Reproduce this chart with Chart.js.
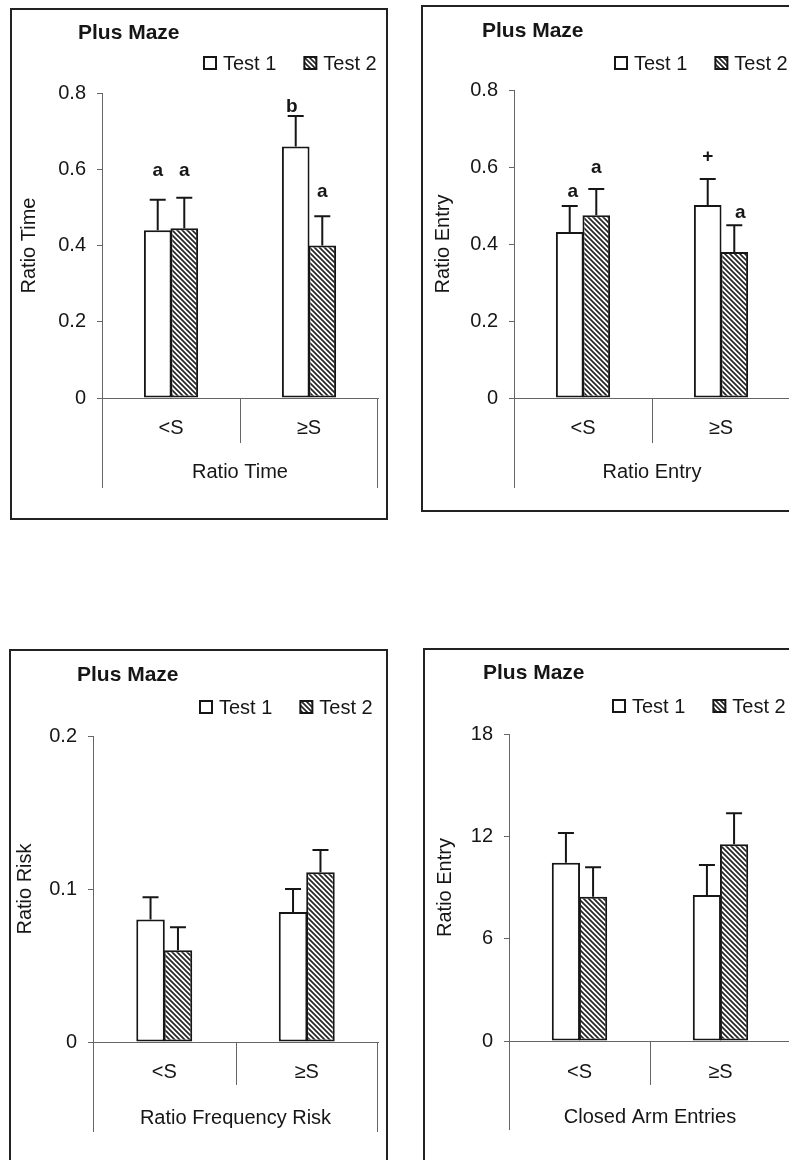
<!DOCTYPE html>
<html><head><meta charset="utf-8">
<script src="https://cdn.jsdelivr.net/npm/chart.js@4.4.1/dist/chart.umd.min.js"></script>
<style>
html,body{margin:0;padding:0;background:#fff;overflow:hidden;width:789px;height:1160px;position:relative;}
.frame{position:absolute;border:2px solid #222;box-sizing:border-box;}
canvas{position:absolute;}
</style></head><body>
<div class="frame" id="f1"></div><div class="frame" id="f2"></div>
<div class="frame" id="f3"></div><div class="frame" id="f4"></div>
<canvas id="c1"></canvas><canvas id="c2"></canvas>
<canvas id="c3"></canvas><canvas id="c4"></canvas>
<script>
// ---------- data ----------
const categories = ['<S', '\u2265S'];
const seriesNames = ['Test 1', 'Test 2'];
const panelTitle = 'Plus Maze';

// Panel A: Ratio Time
const timeTest1 = [0.44, 0.66];
const timeTest2 = [0.445, 0.40];
const timeErr1 = [0.08, 0.08];
const timeErr2 = [0.08, 0.077];
const timeMarks1 = ['a', 'b'];
const timeMarks2 = ['a', 'a'];
const timeTicks = [0, 0.2, 0.4, 0.6, 0.8];
const timeTickLabels = ['0', '0.2', '0.4', '0.6', '0.8'];

// Panel B: Ratio Entry
const entryTest1 = [0.431, 0.501];
const entryTest2 = [0.475, 0.379];
const entryErr1 = [0.068, 0.068];
const entryErr2 = [0.068, 0.07];
const entryMarks1 = ['a', '+'];
const entryMarks2 = ['a', 'a'];
const entryTicks = [0, 0.2, 0.4, 0.6, 0.8];
const entryTickLabels = ['0', '0.2', '0.4', '0.6', '0.8'];

// Panel C: Ratio Frequency Risk
const riskTest1 = [0.080, 0.085];
const riskTest2 = [0.060, 0.111];
const riskErr1 = [0.0146, 0.015];
const riskErr2 = [0.015, 0.0145];
const riskMarks1 = ['', ''];
const riskMarks2 = ['', ''];
const riskTicks = [0, 0.1, 0.2];
const riskTickLabels = ['0', '0.1', '0.2'];

// Panel D: Closed Arm Entries
const closedTest1 = [10.45, 8.56];
const closedTest2 = [8.46, 11.53];
const closedErr1 = [1.75, 1.76];
const closedErr2 = [1.72, 1.82];
const closedMarks1 = ['', ''];
const closedMarks2 = ['', ''];
const closedTicks = [0, 6, 12, 18];
const closedTickLabels = ['0', '6', '12', '18'];

// ---------- styling / layout ----------
const FONT = "'Liberation Sans', Arial, sans-serif";
Chart.defaults.font.family = FONT;
Chart.defaults.color = '#111';
const FS = 20, LH = FS * 1.2;
const INK = '#161616', AXIS = '#666';

function makeHatch() {
  const s = 5, c = document.createElement('canvas');
  c.width = s; c.height = s;
  const g = c.getContext('2d');
  g.fillStyle = '#fff'; g.fillRect(0, 0, s, s);
  g.strokeStyle = '#262626'; g.lineWidth = 1.7;
  g.beginPath();
  g.moveTo(-1, -1); g.lineTo(s + 1, s + 1);
  g.moveTo(-1, s - 1); g.lineTo(1, s + 1);
  g.moveTo(s - 1, -1); g.lineTo(s + 1, 1);
  g.stroke();
  return g.createPattern(c, 'repeat');
}
const hatch = makeHatch();

const extras = {
  id: 'extras',
  afterDatasetsDraw(chart, args, o) {
    const ctx = chart.ctx, y = chart.scales.y;
    ctx.save();
    ctx.strokeStyle = INK; ctx.lineWidth = 2;
    chart.data.datasets.forEach((ds, di) => {
      const meta = chart.getDatasetMeta(di);
      meta.data.forEach((bar, i) => {
        const top = y.getPixelForValue(ds.data[i]);
        const et = y.getPixelForValue(ds.data[i] + o.errors[di][i]);
        ctx.beginPath();
        ctx.moveTo(bar.x, top); ctx.lineTo(bar.x, et);
        ctx.moveTo(bar.x - 8, et); ctx.lineTo(bar.x + 8, et);
        ctx.stroke();
        const m = o.marks[di][i];
        if (m) {
          ctx.fillStyle = INK;
          ctx.font = 'bold 19px ' + FONT;
          ctx.textAlign = 'center'; ctx.textBaseline = 'alphabetic';
          ctx.fillText(m, bar.x + o.markDx[di][i], et - o.markGap[di][i]);
        }
      });
    });
    ctx.restore();
  },
  afterDraw(chart, args, o) {
    const ctx = chart.ctx, a = chart.chartArea, x = chart.scales.x;
    const L = o.L, ox = L.frame.x, oy = L.frame.y;
    ctx.save();
    // category box lines
    ctx.strokeStyle = AXIS; ctx.lineWidth = 1;
    ctx.beginPath();
    ctx.moveTo(a.left + 0.5, a.bottom); ctx.lineTo(a.left + 0.5, L.lineBottom - oy);
    ctx.moveTo(a.right - 0.5, a.bottom); ctx.lineTo(a.right - 0.5, L.lineBottom - oy);
    const mid = Math.round((x.getPixelForValue(0) + x.getPixelForValue(1)) / 2) + 0.5;
    ctx.moveTo(mid, a.bottom); ctx.lineTo(mid, L.dividerBottom - oy);
    ctx.stroke();
    // title
    ctx.fillStyle = INK;
    ctx.font = 'bold 21px ' + FONT;
    ctx.textAlign = 'left'; ctx.textBaseline = 'middle';
    ctx.fillText(o.title, L.titleX - ox, L.titleY - oy);
    // legend
    ctx.font = FS + 'px ' + FONT;
    let lx = L.legendX - ox;
    const ly = L.legendY - oy;
    chart.data.datasets.forEach((ds, di) => {
      ctx.fillStyle = ds.backgroundColor;
      ctx.fillRect(lx, ly - 6, 12, 12);
      ctx.strokeStyle = INK; ctx.lineWidth = 2;
      ctx.strokeRect(lx, ly - 6, 12, 12);
      ctx.fillStyle = INK;
      ctx.fillText(ds.label, lx + 19, ly + 1);
      lx += 19 + ctx.measureText(ds.label).width + 28;
    });
    ctx.restore();
  }
};

function buildPanel(id, fid, L, d) {
  const f = L.frame;
  const fr = document.getElementById(fid);
  Object.assign(fr.style, {left: f.x + 'px', top: f.y + 'px', width: f.w + 'px', height: f.h + 'px'});
  const cv = document.getElementById(id);
  cv.width = f.w; cv.height = f.h;
  Object.assign(cv.style, {left: f.x + 'px', top: f.y + 'px'});
  const c = L.chart;
  const xBoxBottom = L.xTitleY + LH / 2;
  new Chart(cv, {
    type: 'bar',
    data: {
      labels: categories,
      datasets: [
        {label: seriesNames[0], data: d.s1, backgroundColor: '#ffffff', borderColor: INK, borderWidth: 2, borderSkipped: false},
        {label: seriesNames[1], data: d.s2, backgroundColor: hatch, borderColor: INK, borderWidth: 2, borderSkipped: false}
      ]
    },
    options: {
      responsive: false, animation: false, devicePixelRatio: 1,
      categoryPercentage: 0.385, barPercentage: 1.04,
      layout: {padding: {left: 0, top: c.t - f.y, right: f.x + f.w - c.r, bottom: f.y + f.h - xBoxBottom}},
      plugins: {
        legend: {display: false}, tooltip: {enabled: false}, title: {display: false},
        extras: {L: L, title: panelTitle, errors: [d.e1, d.e2], marks: [d.m1, d.m2],
                 markGap: L.markGap, markDx: L.markDx}
      },
      scales: {
        x: {
          offset: true,
          grid: {display: false, drawTicks: false, tickLength: 0},
          border: {display: true, color: AXIS, width: 1},
          ticks: {font: {size: FS}, color: INK, padding: L.catLabelY - c.b - LH / 2, maxRotation: 0, autoSkip: false},
          title: {display: true, text: d.xTitle, font: {size: FS}, color: INK, padding: 0},
          afterFit: s => { s.height = xBoxBottom - c.b; }
        },
        y: {
          min: 0, max: d.ticks[d.ticks.length - 1],
          afterBuildTicks: s => { s.ticks = d.ticks.map(v => ({value: v})); },
          grid: {drawOnChartArea: false, drawTicks: true, tickLength: 5, color: AXIS, lineWidth: 1},
          border: {display: true, color: AXIS, width: 1},
          ticks: {font: {size: FS}, color: INK, padding: 11,
                  callback: (v, i) => d.tickLabels[i]},
          title: {display: true, text: d.yTitle, font: {size: FS}, color: INK,
                  padding: {top: L.yTitleX - f.x - LH / 2, bottom: 0}},
          afterFit: s => { s.width = c.l - f.x; }
        }
      }
    },
    plugins: [extras]
  });
}

buildPanel('c1', 'f1', {
  frame: {x: 10, y: 8, w: 378, h: 512}, chart: {l: 102, t: 93, r: 378, b: 398},
  lineBottom: 488, dividerBottom: 443, catLabelY: 428, xTitleY: 472, yTitleX: 29,
  titleX: 78, titleY: 33, legendX: 204, legendY: 63,
  markGap: [[24, 4], [22, 19]], markDx: [[0, -4], [0, 0]]
}, {s1: timeTest1, s2: timeTest2, e1: timeErr1, e2: timeErr2, m1: timeMarks1, m2: timeMarks2,
    ticks: timeTicks, tickLabels: timeTickLabels, xTitle: 'Ratio Time', yTitle: 'Ratio Time'});

buildPanel('c2', 'f2', {
  frame: {x: 421, y: 5, w: 400, h: 507}, chart: {l: 514, t: 90, r: 790, b: 398},
  lineBottom: 488, dividerBottom: 443, catLabelY: 428, xTitleY: 472, yTitleX: 443,
  titleX: 482, titleY: 31, legendX: 615, legendY: 63,
  markGap: [[9, 17], [16, 7]], markDx: [[3, 0], [0, 6]]
}, {s1: entryTest1, s2: entryTest2, e1: entryErr1, e2: entryErr2, m1: entryMarks1, m2: entryMarks2,
    ticks: entryTicks, tickLabels: entryTickLabels, xTitle: 'Ratio Entry', yTitle: 'Ratio Entry'});

buildPanel('c3', 'f3', {
  frame: {x: 9, y: 649, w: 379, h: 530}, chart: {l: 93, t: 736, r: 378, b: 1042},
  lineBottom: 1132, dividerBottom: 1085, catLabelY: 1072, xTitleY: 1118, yTitleX: 25,
  titleX: 77, titleY: 675, legendX: 200, legendY: 707,
  markGap: [[0, 0], [0, 0]], markDx: [[0, 0], [0, 0]]
}, {s1: riskTest1, s2: riskTest2, e1: riskErr1, e2: riskErr2, m1: riskMarks1, m2: riskMarks2,
    ticks: riskTicks, tickLabels: riskTickLabels, xTitle: 'Ratio Frequency Risk', yTitle: 'Ratio Risk'});

buildPanel('c4', 'f4', {
  frame: {x: 423, y: 648, w: 400, h: 530}, chart: {l: 509, t: 734, r: 791, b: 1041},
  lineBottom: 1130, dividerBottom: 1085, catLabelY: 1072, xTitleY: 1117, yTitleX: 445,
  titleX: 483, titleY: 673, legendX: 613, legendY: 706,
  markGap: [[0, 0], [0, 0]], markDx: [[0, 0], [0, 0]]
}, {s1: closedTest1, s2: closedTest2, e1: closedErr1, e2: closedErr2, m1: closedMarks1, m2: closedMarks2,
    ticks: closedTicks, tickLabels: closedTickLabels, xTitle: 'Closed Arm Entries', yTitle: 'Ratio Entry'});
</script>
</body></html>
